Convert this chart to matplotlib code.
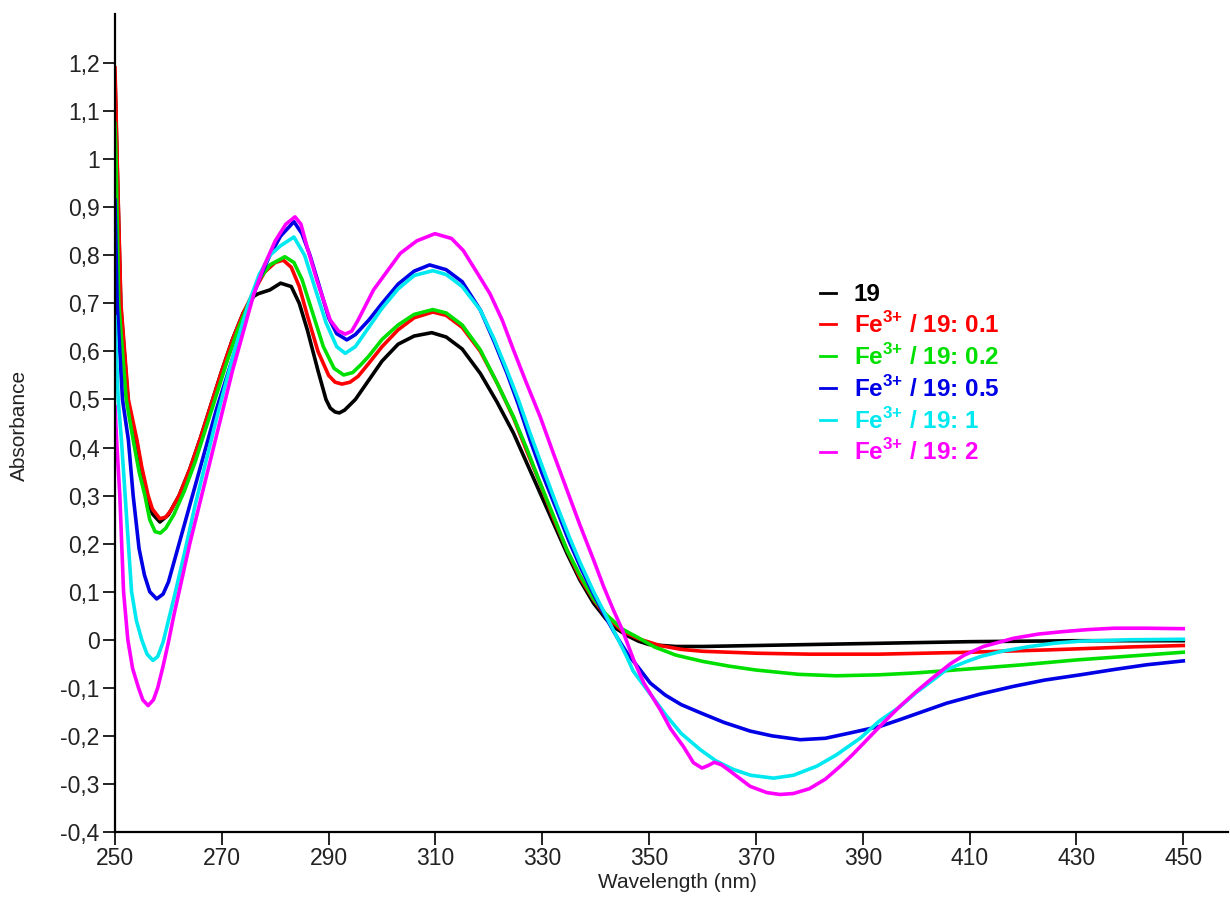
import matplotlib
matplotlib.use('Agg')
import matplotlib.pyplot as plt

plt.rcParams['font.family'] = ['Liberation Sans', 'DejaVu Sans']
plt.rcParams['mathtext.fontset'] = 'custom'
plt.rcParams['mathtext.rm'] = 'Liberation Sans'
plt.rcParams['mathtext.bf'] = 'Liberation Sans:bold'

# Spectra (wavelength in nm, absorbance)
wl_19 = [250, 250.4, 251.1, 252.5, 254.1, 255, 256.2, 257, 258.4, 260, 262, 264, 266, 268, 270,
         272, 274, 276, 276.8, 279, 281, 283, 284.5, 286, 288, 289.5, 290.3, 291.2, 292, 293,
         295, 297.5, 300, 303, 306, 309.3, 312, 315, 318.4, 321.5, 324.6, 327, 329.6, 332,
         334.6, 337, 339.6, 342, 344, 346, 348, 350, 355, 360, 370, 380, 390, 400, 410, 420,
         430, 440, 450]
abs_19 = [1.17, 0.99, 0.69, 0.49, 0.41, 0.35, 0.29, 0.262, 0.245, 0.26, 0.30, 0.355, 0.42, 0.49,
          0.56, 0.625, 0.68, 0.715, 0.72, 0.728, 0.742, 0.735, 0.70, 0.645, 0.56, 0.50, 0.482,
          0.474, 0.472, 0.478, 0.50, 0.54, 0.58, 0.615, 0.632, 0.639, 0.63, 0.605, 0.554,
          0.495, 0.43, 0.37, 0.305, 0.245, 0.18, 0.125, 0.076, 0.042, 0.022, 0.008, -0.003,
          -0.01, -0.014, -0.014, -0.012, -0.01, -0.008, -0.006, -0.004, -0.003, -0.002,
          -0.002, -0.002]

wl_01 = [250, 250.4, 251.1, 252.5, 254.1, 255, 256.2, 257, 258.4, 259.5, 260.5, 262, 264, 266,
         268, 270, 272, 274, 276, 278, 280, 281.5, 283, 284.5, 286, 288, 290, 291.2, 292.5,
         294, 295.5, 297.5, 300, 303, 306, 309.5, 312, 315, 318.4, 321.5, 324.6, 327, 329.6,
         332, 334.6, 337, 339.6, 342, 345, 348, 352, 356, 360, 370, 380, 393, 410, 425, 440, 450]
abs_01 = [1.19, 1.0, 0.70, 0.50, 0.416, 0.36, 0.30, 0.272, 0.252, 0.255, 0.27, 0.30, 0.355,
          0.42, 0.49, 0.56, 0.625, 0.68, 0.725, 0.765, 0.785, 0.79, 0.775, 0.735, 0.675, 0.60,
          0.55, 0.536, 0.532, 0.536, 0.548, 0.575, 0.61, 0.645, 0.67, 0.682, 0.675, 0.65, 0.60,
          0.535, 0.462, 0.395, 0.325, 0.255, 0.187, 0.13, 0.083, 0.048, 0.018, 0.002, -0.012,
          -0.02, -0.024, -0.028, -0.03, -0.03, -0.026, -0.021, -0.015, -0.012]

wl_02 = [250, 250.2, 250.7, 252.1, 253.4, 254.5, 255.6, 256.5, 257.5, 258.5, 259.5, 261, 263,
         265, 267, 269, 271, 273, 275, 277, 279, 281.8, 283.5, 285, 287, 289, 291, 292.8, 294.5,
         296, 297.5, 300, 303, 306, 309.5, 312, 315, 318.4, 321.5, 324.6, 327, 329.6, 332,
         334.6, 337, 339.6, 342, 345, 348, 351, 355, 360, 365, 370, 378, 385, 393, 400, 412,
         420, 430, 440, 450]
abs_02 = [1.075, 1.0, 0.70, 0.50, 0.416, 0.35, 0.30, 0.25, 0.225, 0.222, 0.232, 0.26, 0.31,
          0.37, 0.44, 0.51, 0.58, 0.645, 0.70, 0.75, 0.78, 0.797, 0.785, 0.75, 0.68, 0.61,
          0.565, 0.551, 0.556, 0.572, 0.59, 0.625, 0.655, 0.677, 0.687, 0.68, 0.655, 0.603,
          0.535, 0.464, 0.40, 0.326, 0.26, 0.187, 0.135, 0.085, 0.052, 0.022, 0.004, -0.015,
          -0.032, -0.045, -0.055, -0.063, -0.072, -0.075, -0.073, -0.069, -0.059, -0.052,
          -0.042, -0.034, -0.026]

wl_05 = [250, 250.4, 251.4, 252.5, 253.4, 254.5, 255.5, 256.5, 257.8, 259, 260, 261, 263, 265,
         267, 269, 271, 273, 275, 277, 279, 281, 283.5, 285, 286.5, 288, 290, 291.5, 293.4, 295,
         297.5, 300, 303, 306, 308.9, 312, 315, 318.4, 321, 323.4, 325.5, 327.7, 330, 332.7,
         335, 337.1, 339.6, 342.1, 344, 346, 348, 350.2, 353, 356, 359.6, 364, 368.9, 373,
         378.3, 383, 387.6, 393.3, 397, 405.7, 412, 418.2, 424, 430.7, 437, 443.2, 450]
abs_05 = [0.915, 0.70, 0.50, 0.416, 0.30, 0.19, 0.135, 0.10, 0.085, 0.095, 0.12, 0.16, 0.24,
          0.32, 0.40, 0.48, 0.55, 0.62, 0.69, 0.75, 0.80, 0.84, 0.87, 0.845, 0.80, 0.745,
          0.67, 0.637, 0.624, 0.635, 0.665, 0.70, 0.74, 0.767, 0.78, 0.77, 0.745, 0.686, 0.62,
          0.554, 0.49, 0.416, 0.345, 0.27, 0.205, 0.152, 0.095, 0.042, 0.005, -0.03, -0.058,
          -0.09, -0.115, -0.135, -0.152, -0.172, -0.19, -0.20, -0.208, -0.205, -0.194, -0.18,
          -0.166, -0.132, -0.113, -0.097, -0.084, -0.073, -0.062, -0.052, -0.044]

wl_1 = [250, 250.6, 251.2, 251.9, 253.1, 254, 255, 256, 257.1, 258, 259, 260, 261, 263, 265,
        267, 269, 271, 273, 275, 277, 279, 281, 283.5, 285.5, 287.5, 289.5, 291.5, 293.1, 295,
        297.5, 300, 303, 306, 309.5, 312, 315, 318.4, 321, 323.4, 325.5, 327.7, 330, 332.7,
        335, 337.1, 339.6, 342, 344, 345.8, 347, 350, 353.3, 356, 359.6, 362.5, 365.8, 369,
        373.3, 377, 381.4, 385, 389.5, 393, 397, 400, 403, 405.7, 409.5, 412, 416, 421.3, 426,
        430.7, 440, 450]
abs_1 = [0.672, 0.50, 0.416, 0.30, 0.10, 0.04, 0.0, -0.03, -0.043, -0.035, -0.005, 0.04, 0.085,
         0.18, 0.28, 0.37, 0.46, 0.545, 0.625, 0.70, 0.76, 0.80, 0.82, 0.838, 0.80, 0.73, 0.66,
         0.61, 0.596, 0.61, 0.65, 0.69, 0.73, 0.758, 0.768, 0.76, 0.735, 0.686, 0.625, 0.56,
         0.50, 0.43, 0.36, 0.28, 0.215, 0.16, 0.10, 0.048, 0.005, -0.035, -0.065, -0.11,
         -0.159, -0.195, -0.229, -0.252, -0.27, -0.282, -0.288, -0.282, -0.263, -0.24, -0.205,
         -0.17, -0.139, -0.11, -0.085, -0.062, -0.045, -0.035, -0.024, -0.014, -0.007, -0.003,
         0.0, 0.001]

wl_2 = [250, 250.3, 250.9, 251.6, 252.4, 253.3, 254.4, 255.2, 256.2, 257.2, 258, 259, 260, 261,
        262, 264, 266, 268, 270, 272, 274, 276, 278, 280, 282, 283.7, 284.8, 285.9, 287.8,
        290.3, 291.8, 293.1, 294.3, 295.5, 298.4, 303.4, 306.5, 309.9, 313, 315.2, 318, 320.2,
        322.5, 324.6, 327, 329.6, 332, 334.6, 337, 339.6, 341.5, 343.3, 345, 347.1, 349, 352.1,
        354, 356.4, 358.3, 359.9, 361, 362.2, 363.5, 365, 368.9, 372, 374.5, 377, 380, 383,
        385.8, 388, 392, 395, 397, 400, 403, 406.4, 409, 412.6, 418.2, 423, 427.6, 432, 437,
        443, 450]
abs_2 = [0.485, 0.416, 0.30, 0.10, 0.0, -0.06, -0.10, -0.125, -0.137, -0.125, -0.10, -0.055,
         -0.005, 0.05, 0.10, 0.20, 0.29, 0.38, 0.47, 0.56, 0.64, 0.72, 0.78, 0.83, 0.865, 0.88,
         0.865, 0.82, 0.748, 0.665, 0.643, 0.636, 0.642, 0.665, 0.728, 0.804, 0.83, 0.845,
         0.835, 0.81, 0.76, 0.72, 0.665, 0.603, 0.535, 0.464, 0.39, 0.312, 0.24, 0.166, 0.11,
         0.062, 0.02, -0.042, -0.09, -0.146, -0.185, -0.222, -0.256, -0.267, -0.262, -0.255,
         -0.26, -0.272, -0.305, -0.318, -0.322, -0.32, -0.31, -0.29, -0.263, -0.24, -0.194,
         -0.16, -0.138, -0.108, -0.08, -0.05, -0.032, -0.014, 0.003, 0.012, 0.017, 0.021,
         0.024, 0.024, 0.023]

series = [
    (wl_19, abs_19, '#000000', '19'),
    (wl_01, abs_01, '#ff0000', r'Fe$^{\mathbf{3{+}}}$ / 19: 0.1'),
    (wl_02, abs_02, '#00e000', r'Fe$^{\mathbf{3{+}}}$ / 19: 0.2'),
    (wl_05, abs_05, '#0000e6', r'Fe$^{\mathbf{3{+}}}$ / 19: 0.5'),
    (wl_1, abs_1, '#00e8f0', r'Fe$^{\mathbf{3{+}}}$ / 19: 1'),
    (wl_2, abs_2, '#ff00ff', r'Fe$^{\mathbf{3{+}}}$ / 19: 2'),
]

x_ticks = [250, 270, 290, 310, 330, 350, 370, 390, 410, 430, 450]
y_ticks = [-0.4, -0.3, -0.2, -0.1, 0, 0.1, 0.2, 0.3, 0.4, 0.5, 0.6, 0.7, 0.8, 0.9, 1.0, 1.1, 1.2]
y_labels = ['-0,4', '-0,3', '-0,2', '-0,1', '0', '0,1', '0,2', '0,3', '0,4', '0,5', '0,6',
            '0,7', '0,8', '0,9', '1', '1,1', '1,2']

fig = plt.figure(figsize=(12.3, 9.19), dpi=100)
ax = fig.add_axes([0.0935, 0.0947, 0.905, 0.890])

for wl, a, color, label in series:
    ax.plot(wl, a, color=color, lw=2.6, label=label, solid_joinstyle='round')

ax.set_xlim(250, 458.4)
ax.set_ylim(-0.4, 1.302)
ax.set_xticks(x_ticks)
ax.set_yticks(y_ticks)
ax.set_yticklabels(y_labels)
ax.tick_params(axis='both', direction='out', labelsize=16.5, colors='#222222',
               width=1.4, length=9)
ax.tick_params(axis='x', pad=2)
ax.tick_params(axis='y', pad=2)
for side in ['top', 'right']:
    ax.spines[side].set_visible(False)
for side in ['left', 'bottom']:
    ax.spines[side].set_linewidth(1.6)

fig.text(0.551, 0.040, 'Wavelength (nm)', ha='center', va='center', fontsize=15,
         color='#222222')
fig.text(0.016, 0.537, 'Absorbance', ha='center', va='center', rotation=90, fontsize=15,
         color='#222222')

leg = ax.legend(loc='upper left', bbox_to_anchor=(0.625, 0.683), frameon=False,
                prop={'weight': 'bold', 'size': 17.5}, handlelength=0.62,
                handletextpad=0.74, labelspacing=0.245, borderaxespad=0)
for text, (_, _, color, _) in zip(leg.get_texts(), series):
    text.set_color(color)
for line in leg.get_lines():
    line.set_linewidth(2)

fig.savefig('out.png', dpi=100)
